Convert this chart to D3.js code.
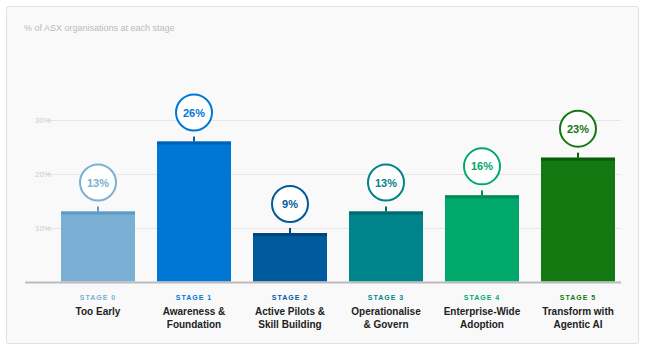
<!DOCTYPE html>
<html>
<head>
<meta charset="utf-8">
<script src="https://cdn.jsdelivr.net/npm/d3@7"></script>
<style>
  html, body { margin: 0; padding: 0; background: #ffffff; }
  svg { display: block; font-family: "Liberation Sans", Arial, sans-serif; }
</style>
</head>
<body>
<svg id="chart" width="646" height="350"></svg>
<script>
// Stage data
const stageCodes = ["STAGE 0", "STAGE 1", "STAGE 2", "STAGE 3", "STAGE 4", "STAGE 5"];
const stageNames = [
  ["Too Early"],
  ["Awareness &", "Foundation"],
  ["Active Pilots &", "Skill Building"],
  ["Operationalise", "& Govern"],
  ["Enterprise-Wide", "Adoption"],
  ["Transform with", "Agentic AI"]
];
const shares = [13, 26, 9, 13, 16, 23];
const yTicks = [10, 20, 30];

// Palette per stage
const barColors = ["#7bafd4", "#0077d4", "#005a9e", "#00838a", "#00a86b", "#13780f"];
const capColors = ["#5c9ac7", "#0061b3", "#00467e", "#006a70", "#008b58", "#0b5d08"];

const svg = d3.select("#chart");

// Card
svg.append("rect")
  .attr("x", 6.5).attr("y", 6.5)
  .attr("width", 632).attr("height", 337)
  .attr("rx", 2)
  .attr("fill", "#f9f9f9")
  .attr("stroke", "#e0e0e0")
  .attr("stroke-width", 1);

svg.append("text")
  .attr("x", 24).attr("y", 31)
  .attr("font-size", 9)
  .attr("fill", "#bbbbbb")
  .text("% of ASX organisations at each stage");

const x = d3.scaleBand()
  .domain(stageCodes)
  .range([50, 626])
  .paddingInner(0.229)
  .paddingOuter(0.1146);

const y = d3.scaleLinear()
  .domain([0, 30])
  .range([281.5, 120]);

// Grid lines and tick labels
const grid = svg.append("g");
grid.selectAll("line")
  .data(yTicks)
  .join("line")
  .attr("x1", 45).attr("x2", 621)
  .attr("y1", d => Math.round(y(d)) + 0.5)
  .attr("y2", d => Math.round(y(d)) + 0.5)
  .attr("stroke", "#e6e6e6")
  .attr("stroke-width", 1);
grid.selectAll("text")
  .data(yTicks)
  .join("text")
  .attr("x", 35)
  .attr("y", d => y(d) + 3)
  .attr("font-size", 8)
  .attr("fill", "#cccccc")
  .text(d => d + "%");

// Bars
const bars = svg.append("g").selectAll("g")
  .data(shares)
  .join("g");

bars.append("rect")
  .attr("x", (d, i) => x(stageCodes[i]))
  .attr("y", d => y(d))
  .attr("width", x.bandwidth())
  .attr("height", d => y(0) - y(d))
  .attr("fill", (d, i) => barColors[i]);

bars.append("rect")
  .attr("x", (d, i) => x(stageCodes[i]))
  .attr("y", d => y(d))
  .attr("width", x.bandwidth())
  .attr("height", 3)
  .attr("fill", (d, i) => capColors[i]);

const cx = i => x(stageCodes[i]) + x.bandwidth() / 2;

bars.append("line")
  .attr("x1", (d, i) => cx(i)).attr("x2", (d, i) => cx(i))
  .attr("y1", d => y(d) - 5).attr("y2", d => y(d))
  .attr("stroke", (d, i) => capColors[i])
  .attr("stroke-width", 2);

bars.append("circle")
  .attr("cx", (d, i) => cx(i))
  .attr("cy", d => y(d) - 29)
  .attr("r", 18)
  .attr("fill", "#ffffff")
  .attr("stroke", (d, i) => barColors[i])
  .attr("stroke-width", 2);

bars.append("text")
  .attr("x", (d, i) => cx(i))
  .attr("y", d => y(d) - 29 + 4)
  .attr("text-anchor", "middle")
  .attr("font-size", 11)
  .attr("font-weight", "bold")
  .attr("fill", (d, i) => barColors[i])
  .text(d => d + "%");

// Baseline
svg.append("line")
  .attr("x1", 25).attr("x2", 621)
  .attr("y1", y(0) + 1).attr("y2", y(0) + 1)
  .attr("stroke", "#bbbbbb")
  .attr("stroke-width", 2);

// Category labels
const labels = svg.append("g").selectAll("g")
  .data(stageCodes)
  .join("g");

labels.append("text")
  .attr("x", (d, i) => cx(i))
  .attr("y", 300)
  .attr("text-anchor", "middle")
  .attr("font-size", 7)
  .attr("font-weight", "bold")
  .attr("letter-spacing", 1)
  .attr("fill", (d, i) => barColors[i])
  .text(d => d);

labels.append("text")
  .attr("x", (d, i) => cx(i))
  .attr("y", 315)
  .attr("text-anchor", "middle")
  .attr("font-size", 10)
  .attr("font-weight", "bold")
  .attr("fill", "#222222")
  .selectAll("tspan")
  .data((d, i) => stageNames[i])
  .join("tspan")
  .attr("x", function() { return this.parentNode.getAttribute("x"); })
  .attr("dy", (d, j) => j === 0 ? 0 : 12.5)
  .text(d => d);
</script>
</body>
</html>
